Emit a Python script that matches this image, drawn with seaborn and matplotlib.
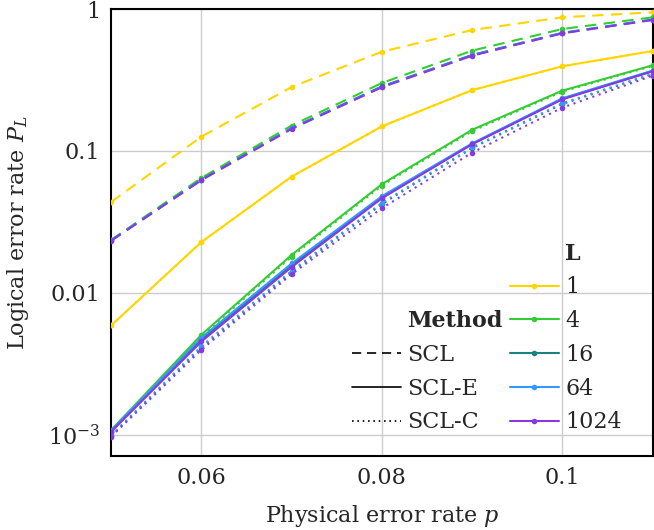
import numpy as np
import pandas as pd
import matplotlib
matplotlib.use("Agg")
import matplotlib.pyplot as plt
import seaborn as sns
from matplotlib.lines import Line2D

# physical error rate
p = [0.05, 0.06, 0.07, 0.08, 0.09, 0.10, 0.11]
sizes = [1, 4, 16, 64, 1024]
methods = ["SCL", "SCL-E", "SCL-C"]

# SCL (dashed)
scl_1 = [0.0437, 0.126, 0.282, 0.50, 0.711, 0.874, 0.948]
scl_4 = [0.0236, 0.0645, 0.151, 0.301, 0.509, 0.723, 0.874]
scl_16 = [0.0234, 0.0628, 0.145, 0.285, 0.475, 0.680, 0.842]
scl_64 = [0.0234, 0.0625, 0.144, 0.283, 0.472, 0.677, 0.840]
scl_1024 = [0.0233, 0.0622, 0.143, 0.281, 0.469, 0.674, 0.837]

# SCL-E (solid)
scle_1 = [0.00589, 0.0228, 0.0659, 0.149, 0.268, 0.395, 0.506]
scle_4 = [0.00108, 0.00506, 0.0185, 0.0583, 0.141, 0.266, 0.401]
scle_16 = [0.00106, 0.00470, 0.0157, 0.0472, 0.112, 0.233, 0.366]
scle_64 = [0.00107, 0.00482, 0.0161, 0.0480, 0.113, 0.235, 0.368]
scle_1024 = [0.00105, 0.00454, 0.0152, 0.0464, 0.1115, 0.231, 0.364]

# SCL-C (dotted)
sclc_1 = [0.00589, 0.0228, 0.0659, 0.149, 0.268, 0.395, 0.506]
sclc_4 = [0.00105, 0.00495, 0.0180, 0.0570, 0.138, 0.262, 0.397]
sclc_16 = [0.00098, 0.00410, 0.0140, 0.0422, 0.1047, 0.214, 0.348]
sclc_64 = [0.00099, 0.00420, 0.0143, 0.0430, 0.106, 0.217, 0.350]
sclc_1024 = [0.00097, 0.00397, 0.01355, 0.0395, 0.0973, 0.202, 0.339]

series = {
    "SCL": [scl_1, scl_4, scl_16, scl_64, scl_1024],
    "SCL-E": [scle_1, scle_4, scle_16, scle_64, scle_1024],
    "SCL-C": [sclc_1, sclc_4, sclc_16, sclc_64, sclc_1024],
}

rows = []
for m in methods:
    for L, vals in zip(sizes, series[m]):
        for x, v in zip(p, vals):
            rows.append({"p": x, "PL": v, "L": L, "Method": m})
df = pd.DataFrame(rows)

colors = {1: "#FFD500", 4: "#33CC33", 16: "#1A8080", 64: "#3399FF", 1024: "#8838E0"}
dashes = {"SCL": (5.5, 3.5), "SCL-E": "", "SCL-C": (1, 2.2)}

sns.set_theme(style="white")
plt.rcParams["font.family"] = ["DejaVu Serif"]
plt.rcParams["mathtext.fontset"] = "dejavuserif"

fig, ax = plt.subplots(figsize=(6.54, 5.30), dpi=100)
fig.subplots_adjust(left=0.170, right=0.998, bottom=0.140, top=0.983)

sns.lineplot(data=df, x="p", y="PL", hue="L", style="Method",
             hue_order=sizes, style_order=methods,
             palette=colors, dashes=dashes, markers={m: "o" for m in methods},
             markersize=4, markeredgewidth=0, linewidth=1.5,
             legend=False, ax=ax, zorder=3)

ax.set_yscale("log")
ax.set_xlim(0.05, 0.11)
ax.set_ylim(7.1e-4, 1)
ax.set_xticks([0.06, 0.08, 0.10])
ax.set_xticklabels(["0.06", "0.08", "0.1"])
ax.set_yticks([1e-3, 1e-2, 1e-1, 1])
ax.set_yticklabels([r"$10^{-3}$", "0.01", "0.1", "1"])
ax.yaxis.set_minor_locator(matplotlib.ticker.NullLocator())
ax.grid(True, color="#cccccc", linewidth=1.0, zorder=0)
ax.tick_params(direction="in", length=8, width=1.2, labelsize=16, color="black", pad=8)
for s in ax.spines.values():
    s.set_color("black")
    s.set_linewidth(1.5)
ax.set_xlabel(r"Physical error rate $p$", fontsize=16, labelpad=10)
ax.set_ylabel(r"Logical error rate $P_L$", fontsize=16, labelpad=12)

# legend: two columns, headers as blank entries
blank = Line2D([], [], color="none")
handles = [blank, blank, blank]
labels = ["", "", "Method"]
for m in methods:
    handles.append(Line2D([], [], color="black", lw=1.2, dashes=dashes[m] if dashes[m] else (None, None)))
    labels.append(m)
handles.append(blank)
labels.append("L")
for L in sizes:
    handles.append(Line2D([], [], color=colors[L], lw=1.5, marker="o", markersize=4, markeredgewidth=0))
    labels.append(str(L))

leg = ax.legend(handles, labels, ncol=2, loc="lower right",
                bbox_to_anchor=(0.943, 0.05), frameon=False, fontsize=16,
                handlelength=2.2, handletextpad=0.3, columnspacing=0.3,
                labelspacing=0.53, borderpad=0, borderaxespad=0)
texts = leg.get_texts()
texts[2].set_fontweight("bold")
texts[6].set_fontweight("bold")

fig.savefig("out.png", dpi=100)
